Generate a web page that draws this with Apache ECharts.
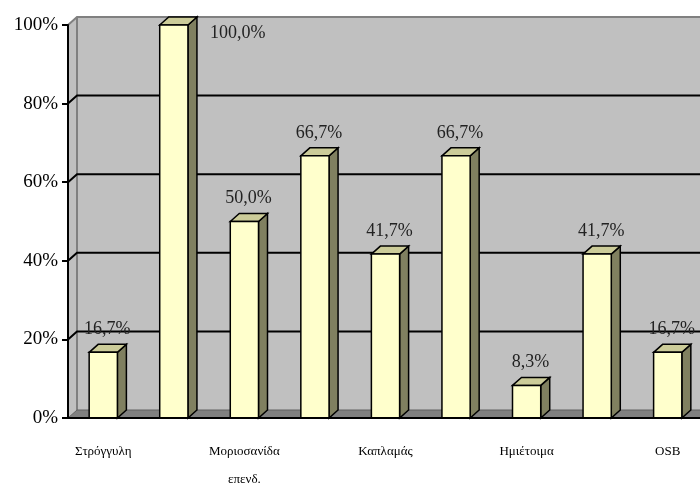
<!DOCTYPE html>
<html>
<head>
<meta charset="utf-8">
<script src="https://cdn.jsdelivr.net/npm/echarts@6/dist/echarts.min.js"></script>
<style>
  html, body { margin: 0; padding: 0; background: #fff; }
  #chart { width: 700px; height: 485px; }
</style>
</head>
<body>
<div id="chart"></div>
<script>
// data
var categories = ['Στρόγγυλη', '', 'Μοριοσανίδα\nεπενδ.', '', 'Καπλαμάς', '', 'Ημιέτοιμα', '', 'OSB'];
var values = [16.7, 100, 50, 66.7, 41.7, 66.7, 8.3, 41.7, 16.7];
var yTicks = [0, 20, 40, 60, 80, 100];

var FONT = 'Liberation Serif';
var DX = 9, DY = -8;   // depth of the 3d look

var chart = echarts.init(document.getElementById('chart'));

// back wall, left wall, floor and gridlines
function renderWalls(params, api) {
    var cs = params.coordSys;
    var x = cs.x, y = cs.y, w = cs.width, h = cs.height;
    var kids = [];
    kids.push({
        type: 'polygon',
        shape: { points: [[x, y], [x + DX, y + DY], [x + DX, y + h + DY], [x, y + h]] },
        style: { fill: '#c0c0c0', stroke: null }
    });
    kids.push({
        type: 'rect',
        shape: { x: x + DX, y: y + DY, width: w + 20, height: h },
        style: { fill: '#c0c0c0', stroke: null }
    });
    kids.push({
        type: 'polygon',
        shape: { points: [[x, y + h], [x + DX, y + h + DY], [x + w + DX + 20, y + h + DY], [x + w + 20, y + h]] },
        style: { fill: '#808080', stroke: null }
    });
    // wall edges
    kids.push({
        type: 'polyline',
        shape: { points: [[x, y], [x + DX, y + DY], [x + w + DX + 20, y + DY]] },
        style: { stroke: '#808080', lineWidth: 2, fill: null }
    });
    kids.push({
        type: 'line',
        shape: { x1: x + DX, y1: y + DY, x2: x + DX, y2: y + h + DY },
        style: { stroke: '#808080', lineWidth: 2 }
    });
    kids.push({
        type: 'polyline',
        shape: { points: [[x, y + h], [x + DX, y + h + DY], [x + w + DX + 20, y + h + DY]] },
        style: { stroke: '#606060', lineWidth: 1, fill: null }
    });
    // gridlines
    for (var k = 1; k < yTicks.length - 1; k++) {
        var gy = api.coord([0, yTicks[k]])[1];
        kids.push({
            type: 'polyline',
            shape: { points: [[x, gy], [x + DX, gy + DY], [x + w + DX + 20, gy + DY]] },
            style: { stroke: '#000', lineWidth: 2, fill: null }
        });
    }
    return { type: 'group', children: kids };
}

function renderBar(params, api) {
    var i = api.value(0), v = api.value(1);
    var base = api.coord([i, 0]);
    var top = api.coord([i, v]);
    var bw = api.size([1, 0])[0] * 0.4;
    var x0 = base[0] - bw / 2, x1 = base[0] + bw / 2;
    var y0 = base[1], y1 = top[1];
    var txt = v.toFixed(1).replace('.', ',') + '%';
    var label;
    if (y1 - 22 < params.coordSys.y) {
        label = { type: 'text', x: x1 + DX + 13, y: y1 + 8,
            style: { text: txt, font: '18px ' + FONT, fill: '#222', textAlign: 'left', textVerticalAlign: 'middle' } };
    } else {
        label = { type: 'text', x: base[0] + 4, y: y1 - 23,
            style: { text: txt, font: '18px ' + FONT, fill: '#222', textAlign: 'center', textVerticalAlign: 'middle' } };
    }
    return {
        type: 'group',
        children: [
            { type: 'polygon', shape: { points: [[x1, y1], [x1 + DX, y1 + DY], [x1 + DX, y0 + DY], [x1, y0]] },
              style: { fill: '#808060', stroke: '#000', lineWidth: 1.5 } },
            { type: 'polygon', shape: { points: [[x0, y1], [x0 + DX, y1 + DY], [x1 + DX, y1 + DY], [x1, y1]] },
              style: { fill: '#cccc99', stroke: '#000', lineWidth: 1.5 } },
            { type: 'rect', shape: { x: x0, y: y1, width: bw, height: y0 - y1 },
              style: { fill: '#ffffcc', stroke: '#000', lineWidth: 1.5 } },
            label
        ]
    };
}

var option = {
    animation: false,
    grid: { left: 68, right: -3, top: 25, bottom: 67, outerBoundsMode: 'none', containLabel: false },
    xAxis: {
        type: 'category',
        data: categories,
        z: 5,
        axisLine: { lineStyle: { color: '#000', width: 2 } },
        axisTick: { interval: 0, length: 8, lineStyle: { color: '#000', width: 2 } },
        axisLabel: { interval: 1, margin: 20, fontFamily: FONT, fontSize: 13, color: '#000', lineHeight: 28 }
    },
    yAxis: {
        type: 'value',
        min: 0, max: 100, interval: 20,
        z: 5,
        axisLine: { show: true, lineStyle: { color: '#000', width: 2 } },
        axisTick: { show: true, length: 6, lineStyle: { color: '#000', width: 2 } },
        axisLabel: { formatter: '{value}%', margin: 10, fontFamily: FONT, fontSize: 19, color: '#000' },
        splitLine: { show: false }
    },
    series: [
        {
            type: 'custom',
            z: 1,
            renderItem: renderWalls,
            data: [[0, 0]],
            silent: true
        },
        {
            type: 'custom',
            z: 3,
            renderItem: renderBar,
            encode: { x: 0, y: 1 },
            data: values.map(function (v, i) { return [i, v]; })
        }
    ]
};
chart.setOption(option);
</script>
</body>
</html>
